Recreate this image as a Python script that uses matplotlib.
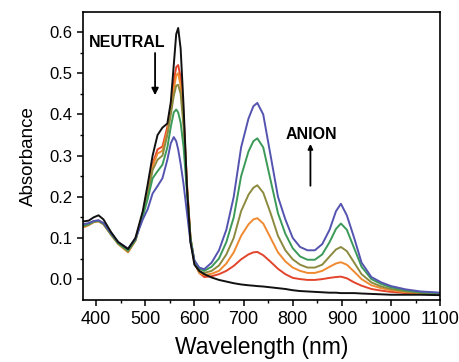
import numpy as np
import matplotlib.pyplot as plt

# ==========================================
# Данные
# ==========================================
wl = [373, 385, 395, 405, 415, 430, 445, 465, 480, 495, 505, 515, 525, 535,
      545, 552, 558, 563, 567, 572, 578, 585, 592, 600, 610, 620, 635, 650,
      665, 680, 695, 710, 720, 728, 740, 755, 770, 785, 800, 815, 830, 845,
      860, 875, 888, 898, 910, 925, 940, 960, 980, 1000, 1030, 1060, 1100]

neutral = [0.140, 0.142, 0.150, 0.155, 0.145, 0.115, 0.090, 0.073, 0.100, 0.165,
           0.230, 0.300, 0.350, 0.368, 0.378, 0.430, 0.520, 0.595, 0.610, 0.560,
           0.420, 0.220, 0.090, 0.035, 0.020, 0.012, 0.004, -0.002, -0.006, -0.010,
           -0.013, -0.015, -0.016, -0.017, -0.018, -0.020, -0.022, -0.024, -0.027,
           -0.029, -0.030, -0.031, -0.032, -0.033, -0.033, -0.034, -0.034, -0.034,
           -0.035, -0.036, -0.037, -0.038, -0.038, -0.038, -0.039]

red = [0.128, 0.133, 0.140, 0.142, 0.135, 0.110, 0.088, 0.068, 0.095, 0.160,
       0.215, 0.280, 0.315, 0.322, 0.370, 0.420, 0.480, 0.515, 0.520, 0.490,
       0.400, 0.230, 0.100, 0.040, 0.015, 0.005, 0.007, 0.012, 0.020, 0.032,
       0.048, 0.060, 0.065, 0.066, 0.058, 0.042, 0.025, 0.012, 0.003, 0.000,
       -0.002, -0.002, 0.000, 0.003, 0.005, 0.006, 0.002, -0.008, -0.016, -0.024,
       -0.028, -0.031, -0.034, -0.036, -0.037]

orange = [0.125, 0.131, 0.138, 0.140, 0.133, 0.108, 0.085, 0.065, 0.093, 0.158,
          0.210, 0.275, 0.305, 0.312, 0.360, 0.410, 0.460, 0.495, 0.500, 0.470,
          0.385, 0.225, 0.100, 0.040, 0.015, 0.010, 0.013, 0.020, 0.038, 0.065,
          0.105, 0.133, 0.145, 0.148, 0.135, 0.100, 0.065, 0.043, 0.028, 0.020,
          0.015, 0.015, 0.020, 0.030, 0.038, 0.041, 0.035, 0.018, 0.000, -0.015,
          -0.022, -0.027, -0.032, -0.034, -0.036]

olive = [0.127, 0.132, 0.139, 0.141, 0.134, 0.109, 0.086, 0.067, 0.094, 0.156,
         0.205, 0.265, 0.290, 0.300, 0.350, 0.400, 0.445, 0.470, 0.472, 0.450,
         0.370, 0.220, 0.100, 0.042, 0.018, 0.015, 0.020, 0.033, 0.060, 0.100,
         0.165, 0.205, 0.222, 0.228, 0.210, 0.160, 0.105, 0.070, 0.048, 0.035,
         0.028, 0.028, 0.035, 0.055, 0.072, 0.078, 0.068, 0.040, 0.012, -0.008,
         -0.018, -0.024, -0.030, -0.033, -0.035]

green = [0.130, 0.134, 0.140, 0.142, 0.135, 0.110, 0.087, 0.070, 0.095, 0.152,
         0.195, 0.245, 0.262, 0.278, 0.320, 0.370, 0.405, 0.412, 0.405, 0.380,
         0.320, 0.210, 0.100, 0.045, 0.025, 0.020, 0.030, 0.050, 0.090, 0.150,
         0.250, 0.310, 0.335, 0.342, 0.320, 0.240, 0.160, 0.110, 0.075, 0.055,
         0.047, 0.047, 0.060, 0.090, 0.122, 0.135, 0.120, 0.075, 0.030, 0.000,
         -0.012, -0.020, -0.027, -0.032, -0.034]

blue = [0.133, 0.136, 0.141, 0.143, 0.136, 0.112, 0.090, 0.074, 0.098, 0.145,
        0.170, 0.208, 0.226, 0.245, 0.290, 0.330, 0.345, 0.335, 0.315, 0.280,
        0.230, 0.160, 0.090, 0.045, 0.028, 0.024, 0.040, 0.070, 0.120, 0.200,
        0.320, 0.390, 0.420, 0.428, 0.400, 0.300, 0.200, 0.145, 0.100, 0.078,
        0.070, 0.070, 0.085, 0.120, 0.165, 0.183, 0.155, 0.100, 0.040, 0.005,
        -0.008, -0.017, -0.025, -0.030, -0.033]

spectra = [red, orange, olive, green, blue]
colors = ['#e2452c', '#f08a30', '#8c8a3e', '#3c9a58', '#5454b0']

xticks = [400, 500, 600, 700, 800, 900, 1000, 1100]
yticks = [0.0, 0.1, 0.2, 0.3, 0.4, 0.5, 0.6]

plt.rcParams['font.family'] = ['Liberation Sans', 'DejaVu Sans']

fig = plt.figure(figsize=(4.6, 3.62), dpi=100)
ax = fig.add_axes([0.180, 0.171, 0.777, 0.796])

for y, c in zip(spectra, colors):
    ax.plot(wl, y, color=c, lw=1.4)
ax.plot(wl, neutral, color='#111111', lw=1.4)

# подписи со стрелками
ax.text(464, 0.575, "NEUTRAL", fontsize=11.5, fontweight='bold', ha='center', va='center')
ax.annotate("", xy=(520, 0.44), xytext=(520, 0.556),
            arrowprops=dict(arrowstyle='-|>', color='black', lw=1.3, mutation_scale=10))
ax.text(838, 0.352, "ANION", fontsize=11.5, fontweight='bold', ha='center', va='center')
ax.annotate("", xy=(836, 0.335), xytext=(836, 0.22),
            arrowprops=dict(arrowstyle='-|>', color='black', lw=1.3, mutation_scale=7))

ax.set_xlim(373, 1100)
ax.set_ylim(-0.051, 0.649)
ax.set_xticks(xticks)
ax.set_xticks(np.arange(450, 1100, 100), minor=True)
ax.set_yticks(yticks)
ax.set_yticks(np.arange(0.05, 0.65, 0.1), minor=True)
ax.set_yticklabels([f"{v:.1f}" for v in yticks])
ax.tick_params(which='major', direction='out', length=4, width=1.1)
ax.tick_params(axis='x', labelsize=13)
ax.tick_params(axis='y', labelsize=12)
ax.tick_params(which='minor', direction='out', length=2.5, width=1.0)
ax.tick_params(top=False, right=False)
for s in ax.spines.values():
    s.set_linewidth(1.2)

ax.set_xlabel("Wavelength (nm)", fontsize=16.5, labelpad=6)
ax.set_ylabel("Absorbance", fontsize=13.5, labelpad=9)

plt.savefig("out.png", dpi=100)
